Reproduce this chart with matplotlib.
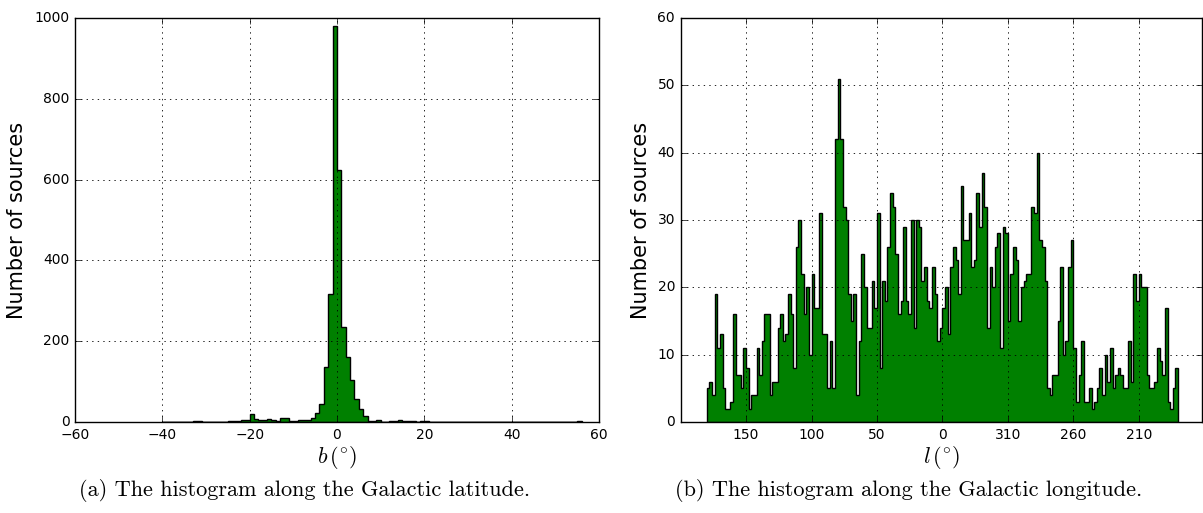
import numpy as np
import matplotlib
matplotlib.use("Agg")
import matplotlib.pyplot as plt

# Galactic latitude histogram, 1 deg bins starting at b = -40
b_start = -40
b_counts = [1, 1, 0, 0, 1, 0, 1, 2, 3, 1,          # -40 .. -31
            0, 0, 0, 0, 1, 2, 3, 3, 5, 5,          # -30 .. -21
            19, 7, 4, 5, 8, 5, 3, 11, 11, 2,       # -20 .. -11
            3, 5, 5, 6, 9, 22, 44, 135, 316, 980,  # -10 .. -1
            624, 235, 161, 103, 58, 33, 16, 3, 3, 4,  # 0 .. 9
            1, 1, 3, 2, 4, 3, 3, 3, 1, 2,          # 10 .. 19
            2, 1, 0, 1, 0, 1, 1, 0, 1, 0,          # 20 .. 29
            1, 1, 0, 1, 0, 0, 1, 0, 1, 1,          # 30 .. 39
            1, 1, 0, 1, 0, 1, 0, 0, 0, 1,          # 40 .. 49
            1, 0, 0, 0, 0, 2]                      # 50 .. 55

# Galactic longitude histogram, 2 deg bins, read left to right (l = 180 -> 0 -> 180)
l_counts_east = [5, 6, 4, 19, 11, 13, 5, 2, 2, 3, 16, 7, 7, 5, 11, 8, 2, 4, 4, 11,
                 7, 12, 16, 16, 4, 6, 6, 14, 16, 12, 13, 19, 16, 8,
                 26, 30, 22, 16, 20, 10, 22, 17, 17, 31, 13, 13, 5, 12, 5, 42,
                 51, 42, 32, 30, 19, 15, 19, 4, 12, 25, 20, 14, 14, 21, 17, 31,
                 8, 21, 18, 26, 34, 32, 25, 16, 18, 29, 18, 16, 30, 14, 30, 29,
                 21, 23, 18, 17, 23, 19, 12, 14]
l_counts_west = [17, 20, 13, 23, 26, 24, 19, 35, 27, 27, 31, 23, 24, 34, 29, 37,
                 32, 14, 23, 20, 26, 28, 11, 29, 28, 15, 22, 26, 24, 15, 20, 21,
                 22, 22, 32, 31, 40, 27, 26, 21, 5, 4, 7, 7, 15, 23, 10, 12, 23, 27,
                 11, 3, 7, 12, 3, 3, 5, 2, 3, 5, 8, 4, 10, 6, 11, 5, 7, 8, 7, 5,
                 5, 12, 6, 22, 18, 22, 20, 20, 7, 5, 5, 6, 11, 9, 7, 17, 3, 2, 5, 8]

l_ticks = [150, 100, 50, 0, -50, -100, -150]
l_ticklabels = ["150", "100", "50", "0", "310", "260", "210"]

plt.style.use("classic")
plt.rcParams["mathtext.fontset"] = "cm"
plt.rcParams["font.family"] = "DejaVu Sans"

fig = plt.figure(figsize=(12.03, 5.13), dpi=100, facecolor="white")

# left panel: latitude
ax1 = fig.add_axes([0.0623, 0.1774, 0.4356, 0.7875])
b_edges = np.arange(b_start, b_start + len(b_counts) + 1)
b_centers = b_edges[:-1] + 0.5
ax1.hist(b_centers, bins=b_edges, weights=b_counts, histtype="stepfilled",
         facecolor="g", edgecolor="k", linewidth=1)
ax1.set_xlim(-60, 60)
ax1.set_ylim(0, 1000)
ax1.set_xticks(np.arange(-60, 61, 20))
ax1.set_yticks(np.arange(0, 1001, 200))
ax1.grid(True, linestyle=":", color="k", linewidth=0.6)
ax1.tick_params(labelsize=10)
ax1.set_xlabel(r"$b\,(^{\circ})$", fontsize=16, labelpad=2)
ax1.set_ylabel("Number of sources", fontsize=15)

# right panel: longitude (l > 180 shown as l - 360, axis reversed)
ax2 = fig.add_axes([0.5658, 0.1774, 0.4330, 0.7875])
l_counts = l_counts_east + l_counts_west
l_edges = np.arange(180, -181, -2)
l_centers = l_edges[:-1] - 1
ax2.hist(l_centers, bins=l_edges[::-1], weights=l_counts, histtype="stepfilled",
         facecolor="g", edgecolor="k", linewidth=1)
ax2.set_xlim(200, -198)
ax2.set_ylim(0, 60)
ax2.set_xticks(l_ticks)
ax2.set_xticklabels(l_ticklabels)
ax2.set_yticks(np.arange(0, 61, 10))
ax2.grid(True, linestyle=":", color="k", linewidth=0.6)
ax2.tick_params(labelsize=10)
ax2.set_xlabel(r"$l\,(^{\circ})$", fontsize=16, labelpad=2)
ax2.set_ylabel("Number of sources", fontsize=15)

fig.text(0.253, 0.043, "(a) The histogram along the Galactic latitude.",
         family="cmr10", fontsize=16, ha="center", va="center")
fig.text(0.755, 0.043, "(b) The histogram along the Galactic longitude.",
         family="cmr10", fontsize=16, ha="center", va="center")

fig.savefig("out.png", dpi=100, facecolor="white")
